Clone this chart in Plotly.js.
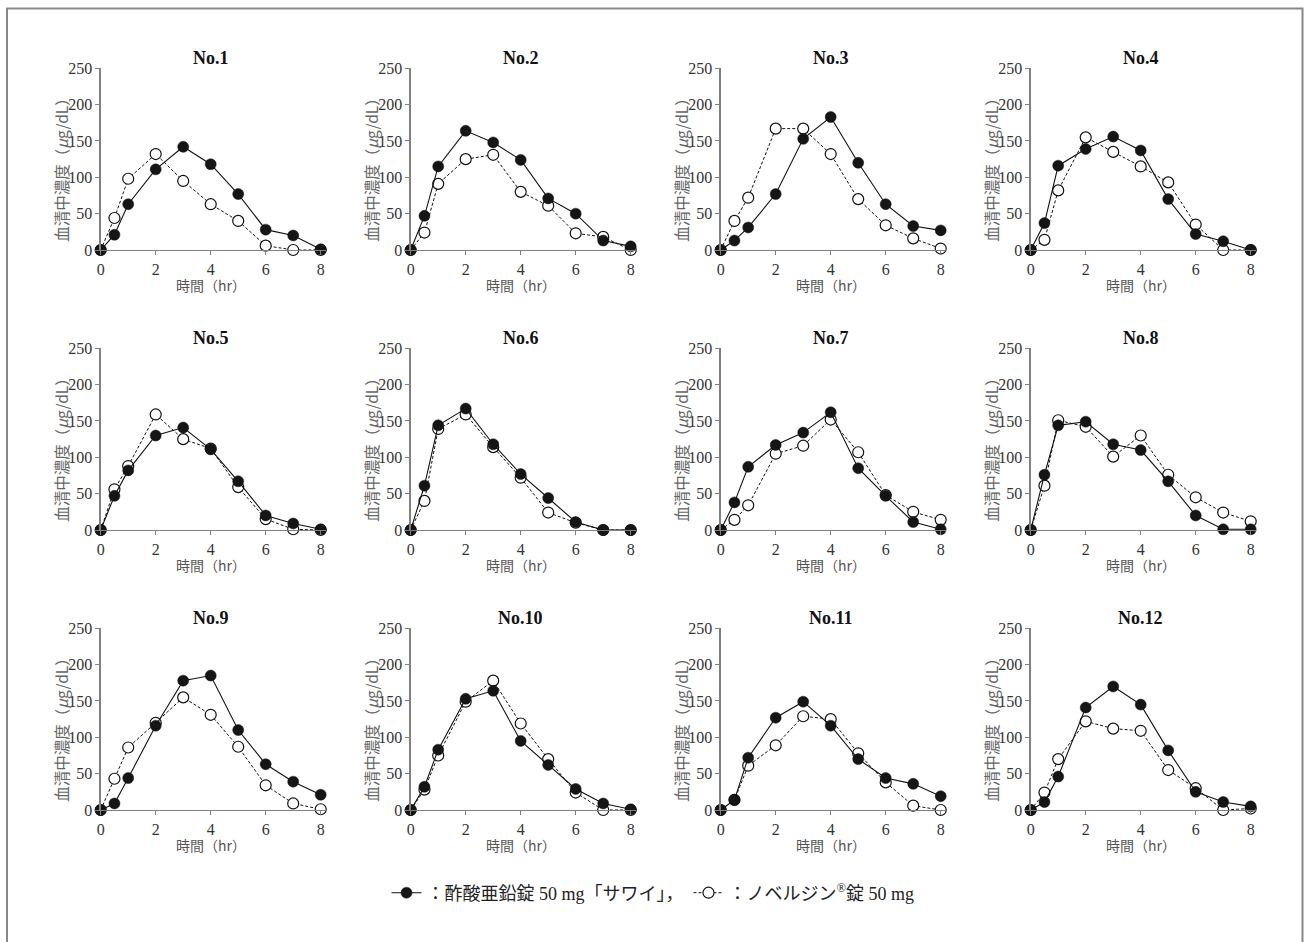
<!DOCTYPE html>
<html>
<head>
<meta charset="utf-8">
<script src="https://cdn.plot.ly/plotly-3.0.1.min.js"></script>
<style>html,body{margin:0;padding:0;background:#fff;}#chart{width:1306px;height:942px;}</style>
</head>
<body>
<div id="chart"></div>
<script>
// Sampling times (hr)
const times = [0, 0.5, 1, 2, 3, 4, 5, 6, 7, 8];
const xTicks = [0, 2, 4, 6, 8];
const yTicks = [0, 50, 100, 150, 200, 250];
const panelTitles = ["No.1","No.2","No.3","No.4","No.5","No.6","No.7","No.8","No.9","No.10","No.11","No.12"];
const seriesNames = ["：酢酸亜鉛錠 50 mg「サワイ」，", "：ノベルジン<sup>®</sup>錠 50 mg"];
const xTitle = "時間（hr）";
const yTitle = "血清中濃度（<i>μ</i>g/dL）";

// 酢酸亜鉛錠 50 mg「サワイ」 (filled circles, solid line)
const sawaiNo1  = [0, 21, 63, 111, 142, 118, 77, 28, 20, 1];
const sawaiNo2  = [0, 47, 115, 164, 148, 124, 71, 50, 13, 5];
const sawaiNo3  = [0, 13, 31, 77, 153, 183, 120, 63, 33, 27];
const sawaiNo4  = [0, 37, 116, 139, 156, 137, 70, 22, 12, 0];
const sawaiNo5  = [0, 47, 82, 130, 141, 111, 67, 20, 9, 1];
const sawaiNo6  = [0, 61, 144, 167, 118, 77, 44, 11, 0, 0];
const sawaiNo7  = [0, 38, 87, 117, 134, 162, 85, 47, 11, 1];
const sawaiNo8  = [0, 76, 144, 149, 118, 110, 67, 20, 1, 1];
const sawaiNo9  = [0, 9, 44, 116, 178, 185, 110, 63, 39, 21];
const sawaiNo10 = [0, 32, 83, 153, 164, 95, 62, 29, 9, 1];
const sawaiNo11 = [0, 14, 72, 127, 149, 116, 70, 44, 36, 19];
const sawaiNo12 = [0, 11, 46, 141, 170, 145, 82, 25, 11, 5];

// ノベルジン錠 50 mg (open circles, dashed line)
const novNo1  = [0, 44, 98, 132, 95, 63, 40, 6, 0, 0];
const novNo2  = [0, 24, 91, 125, 131, 80, 61, 23, 18, 0];
const novNo3  = [0, 40, 72, 167, 167, 132, 70, 34, 16, 2];
const novNo4  = [0, 14, 82, 155, 135, 115, 93, 35, 0, 0];
const novNo5  = [0, 56, 88, 159, 125, 112, 59, 15, 1, 0];
const novNo6  = [0, 40, 139, 159, 114, 72, 24, 10, 0, 0];
const novNo7  = [0, 14, 34, 105, 116, 152, 107, 48, 25, 14];
const novNo8  = [0, 61, 151, 142, 101, 130, 76, 45, 24, 12];
const novNo9  = [0, 43, 86, 120, 155, 131, 87, 34, 9, 1];
const novNo10 = [0, 28, 75, 149, 178, 119, 70, 24, 0, 0];
const novNo11 = [0, 14, 61, 89, 129, 125, 78, 38, 6, 0];
const novNo12 = [0, 24, 70, 122, 112, 109, 55, 30, 0, 2];

const sawaiAll = [sawaiNo1,sawaiNo2,sawaiNo3,sawaiNo4,sawaiNo5,sawaiNo6,sawaiNo7,sawaiNo8,sawaiNo9,sawaiNo10,sawaiNo11,sawaiNo12];
const novAll = [novNo1,novNo2,novNo3,novNo4,novNo5,novNo6,novNo7,novNo8,novNo9,novNo10,novNo11,novNo12];

const W = 1306, H = 942;
const serif = '"Liberation Serif", "Noto Sans CJK JP", serif';
const jp = '"Noto Sans CJK JP", "Liberation Serif", serif';
const axisGray = '#808080';

const traces = [];
const annotations = [];
const layout = {
  width: W, height: H,
  margin: {l: 0, r: 0, t: 0, b: 0},
  paper_bgcolor: '#fff', plot_bgcolor: 'rgba(0,0,0,0)',
  showlegend: true,
  legend: {
    orientation: 'h', x: 0.5, xanchor: 'center', y: 1 - 893/H, yanchor: 'middle',
    font: {family: serif, size: 18, color: '#222'},
    itemwidth: 30, tracegroupgap: 0, bgcolor: 'rgba(0,0,0,0)'
  },
  shapes: [{
    type: 'rect', xref: 'paper', yref: 'paper',
    x0: 7/W, x1: 1302.5/W, y0: -0.05, y1: 1 - 8.5/H,
    line: {color: '#888', width: 2}, fillcolor: 'rgba(0,0,0,0)', layer: 'below'
  }],
  annotations: annotations
};

for (let i = 0; i < 12; i++) {
  const r = Math.floor(i / 4), c = i % 4;
  const x0 = 100.7 + 310 * c;
  const x1 = x0 + 225.5;       // 0..8.2 hr at 27.5 px/hr
  const yBottom = 250 + 280 * r;
  const yTop = 68.3 + 280 * r;
  const sfx = i === 0 ? '' : String(i + 1);
  const xa = 'x' + sfx, ya = 'y' + sfx;

  layout['xaxis' + sfx] = {
    domain: [x0 / W, x1 / W], anchor: ya, range: [0, 8.2],
    tickvals: xTicks, ticks: 'outside', ticklen: 4, tickwidth: 1, tickcolor: axisGray,
    showline: true, linecolor: axisGray, linewidth: 1.3,
    showgrid: false, zeroline: false, fixedrange: true,
    tickfont: {family: serif, size: 16, color: '#333'}
  };
  layout['yaxis' + sfx] = {
    domain: [1 - yBottom / H, 1 - yTop / H], anchor: xa, range: [0, 250],
    tickvals: yTicks, ticks: 'outside', ticklen: 4, tickwidth: 1, tickcolor: axisGray,
    showline: true, linecolor: axisGray, linewidth: 1.3,
    showgrid: false, zeroline: false, fixedrange: true,
    tickfont: {family: serif, size: 16, color: '#333'}
  };

  traces.push({
    type: 'scatter', mode: 'lines+markers', x: times, y: novAll[i],
    xaxis: xa, yaxis: ya, cliponaxis: false,
    name: seriesNames[1], legendrank: 2, showlegend: i === 0,
    line: {color: '#111', width: 1, dash: '3px,2px'},
    marker: {symbol: 'circle', size: 11, color: '#fff', line: {color: '#111', width: 1.2}}
  });
  traces.push({
    type: 'scatter', mode: 'lines+markers', x: times, y: sawaiAll[i],
    xaxis: xa, yaxis: ya, cliponaxis: false,
    name: seriesNames[0], legendrank: 1, showlegend: i === 0,
    line: {color: '#111', width: 1.1},
    marker: {symbol: 'circle', size: 11, color: '#151515', line: {color: '#111', width: 0.5}}
  });

  // Panel title
  annotations.push({
    xref: 'paper', yref: 'paper', x: (x0 + 110) / W, y: 1 - (57.5 + 280 * r) / H,
    xanchor: 'center', yanchor: 'middle', showarrow: false,
    text: '<b>' + panelTitles[i] + '</b>',
    font: {family: serif, size: 18, color: '#111'}
  });
  // X axis title
  annotations.push({
    xref: 'paper', yref: 'paper', x: (x0 + 110) / W, y: 1 - (285 + 280 * r) / H,
    xanchor: 'center', yanchor: 'middle', showarrow: false,
    text: xTitle, font: {family: jp, size: 14, color: '#555'}
  });
  // Y axis title
  annotations.push({
    xref: 'paper', yref: 'paper', x: (x0 - 40) / W, y: 1 - (166 + 280 * r) / H,
    xanchor: 'center', yanchor: 'middle', showarrow: false, textangle: -90,
    text: yTitle, font: {family: jp, size: 15.5, color: '#666'}
  });
}

Plotly.newPlot('chart', traces, layout, {displayModeBar: false, staticPlot: true});
</script>
</body>
</html>
